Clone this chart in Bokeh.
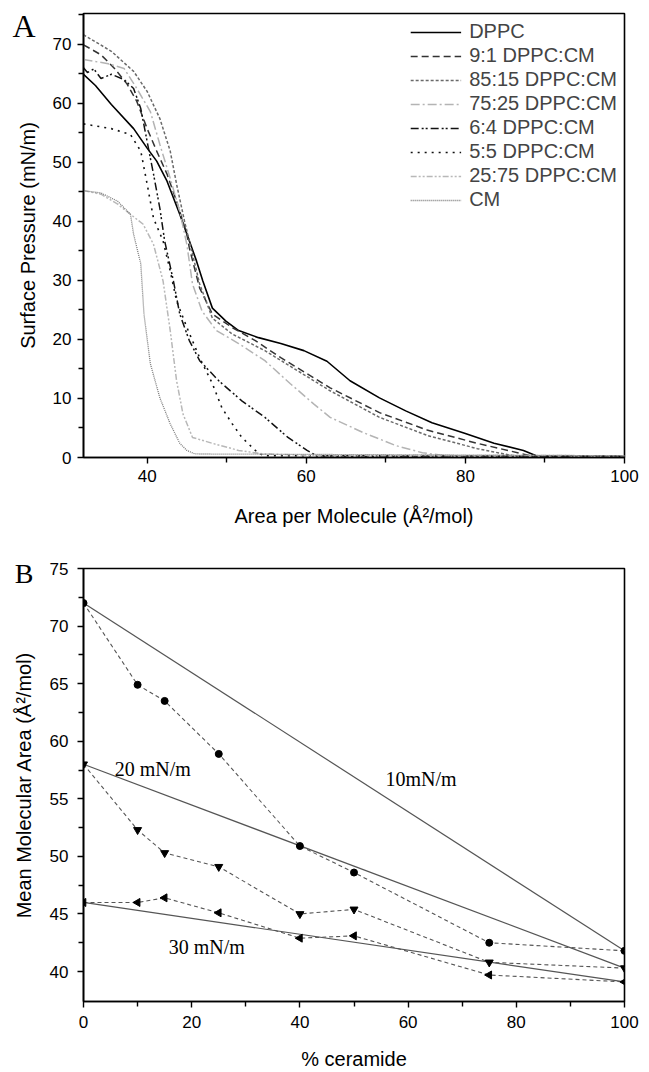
import numpy as np
from bokeh.plotting import figure
from bokeh.models import Range1d, FixedTicker, Label, Legend, LegendItem, LinearAxis
from bokeh.layouts import column
from bokeh.embed import file_html
from bokeh.resources import INLINE

# ---------------- Panel A data: isotherms ----------------
dppc_x = [32, 33.5, 35.5, 38.3, 40, 41.2, 42.5, 44.1, 45.3, 46.2, 47, 48.2, 49.9, 51.5, 54, 56.8, 59.7, 62.6, 65.5, 69.2, 72.5, 75.8, 79.9, 83.6, 87.3, 88.9, 90, 95, 100]
dppc_y = [64.9, 63.0, 59.8, 55.7, 52.4, 50.2, 46.8, 41.2, 36.7, 33.3, 29.9, 25.3, 23.1, 21.5, 20.3, 19.3, 18.1, 16.3, 13.0, 10.1, 7.9, 5.9, 4.1, 2.4, 1.2, 0.3, 0.2, 0.2, 0.2]

m91_x = [32, 34.2, 35.9, 37.5, 38.7, 40, 41.2, 42.5, 43.7, 45, 45.3, 46.6, 48.2, 50.7, 53.6, 56.8, 60.1, 63, 69.2, 75.3, 81.5, 86.9, 88.5, 100]
m91_y = [69.9, 68.2, 65.9, 63.2, 60.3, 55.7, 51.9, 48.0, 43.4, 37.8, 35.5, 28.7, 24.3, 22.0, 19.8, 16.9, 14.2, 11.8, 7.6, 4.6, 2.4, 0.7, 0.2, 0.2]

m8515_x = [32, 35.5, 38.3, 40, 41.6, 42.9, 43.7, 44.7, 45.3, 46.6, 48.2, 50.7, 54.8, 58.9, 63, 69.2, 75.3, 81.5, 86, 88, 100]
m8515_y = [71.6, 68.8, 65.4, 62.0, 57.4, 51.9, 46.3, 40.0, 36.7, 29.4, 23.6, 20.9, 18.1, 14.7, 11.3, 6.8, 3.7, 1.5, 0.3, 0.2, 0.2]

m7525_x = [32, 35.1, 37.1, 38.7, 40.4, 41.6, 42.9, 44.1, 45, 45.7, 46.9, 48.7, 51.5, 54.8, 58, 61, 63, 67.2, 71.3, 74.6, 77.5, 100]
m7525_y = [67.4, 66.7, 65.9, 62.5, 58.6, 53.0, 47.3, 41.7, 36.0, 29.4, 24.8, 21.5, 19.3, 16.4, 12.5, 9.0, 6.8, 4.2, 2.0, 0.8, 0.3, 0.2]

m64_x = [32, 32.5, 33.3, 34.2, 35.5, 37.1, 38.3, 39.2, 40, 40.8, 41.6, 42.2, 43.3, 44.1, 45.3, 46.6, 49, 51.9, 54.8, 57.7, 60.1, 61.3, 100]
m64_y = [66.0, 65.2, 65.8, 64.2, 64.9, 64.0, 62.5, 59.1, 53.5, 48.0, 42.2, 36.7, 29.9, 24.3, 19.8, 16.4, 13.0, 9.6, 6.8, 3.4, 1.2, 0.3, 0.2]

m55_x = [32, 35.5, 37.9, 39.2, 40, 40.8, 42, 42.9, 43.7, 45, 46.6, 48.2, 49.4, 50.7, 51.9, 53.6, 54.6, 100]
m55_y = [56.5, 55.7, 54.7, 51.9, 46.3, 40.5, 36.7, 31.6, 26.5, 22.0, 16.9, 12.5, 8.4, 5.7, 3.4, 1.2, 0.3, 0.2]

m2575_x = [32, 34.2, 36.3, 37.9, 39.5, 40.8, 42, 42.9, 43.7, 44.5, 45.7, 48.2, 51.5, 54.6, 60, 100]
m2575_y = [45.2, 44.6, 42.9, 41.2, 39.5, 36.1, 29.9, 21.5, 13.0, 7.4, 3.4, 2.4, 1.2, 0.6, 0.4, 0.3]

cm_x = [32, 34.2, 36.3, 37.9, 38.3, 38.8, 39.2, 39.6, 40.4, 41.6, 42.9, 44.1, 45, 46, 100]
cm_y = [45.2, 44.8, 43.4, 41.2, 37.8, 35.0, 32.8, 24.3, 15.9, 10.1, 5.7, 2.4, 1.2, 0.6, 0.3]

series_names = ["DPPC", "9:1 DPPC:CM", "85:15 DPPC:CM", "75:25 DPPC:CM",
                "6:4 DPPC:CM", "5:5 DPPC:CM", "25:75 DPPC:CM", "CM"]

# ---------------- Panel B data ----------------
ceramide_pct = [0, 10, 15, 25, 40, 50, 75, 100]
area_10 = [72.0, 64.9, 63.5, 58.9, 50.9, 48.6, 42.5, 41.8]
area_20 = [58.0, 52.3, 50.3, 49.1, 45.0, 45.4, 40.8, 40.3]
area_30 = [46.0, 46.0, 46.4, 45.1, 42.9, 43.1, 39.7, 39.1]

SANS = "Liberation Sans"
SERIF = "Liberation Serif"


def style_axes(p, tick_size="17px", title_size="20px"):
    for ax in (p.xaxis[0], p.yaxis[0]):
        ax.axis_line_color = "black"
        ax.axis_line_width = 1.6
        ax.major_tick_line_color = "black"
        ax.minor_tick_line_color = "black"
        ax.major_tick_line_width = 1.4
        ax.minor_tick_line_width = 1.4
        ax.major_tick_in = 0
        ax.major_tick_out = 6
        ax.minor_tick_in = 0
        ax.minor_tick_out = 5
        ax.major_label_text_font = SANS
        ax.major_label_text_font_size = tick_size
        ax.major_label_text_color = "black"
        ax.major_label_standoff = 6
        ax.axis_label_text_font = SANS
        ax.axis_label_text_font_style = "normal"
        ax.axis_label_text_font_size = title_size
        ax.axis_label_text_color = "black"
    p.outline_line_color = "black"
    p.outline_line_width = 1.6
    p.xgrid.visible = False
    p.ygrid.visible = False
    p.background_fill_color = "white"
    p.border_fill_color = "white"


def letter_and_title_axis(p, ypos, letter, size, label_standoff, title, title_standoff):
    # outer left axis: carries the panel letter (as its single tick label) and the y title
    ax = LinearAxis(ticker=FixedTicker(ticks=[ypos], minor_ticks=[]),
                    major_label_overrides={ypos: letter},
                    axis_line_color=None, major_tick_line_color=None,
                    minor_tick_line_color=None, major_tick_in=0, major_tick_out=0,
                    minor_tick_in=0, minor_tick_out=0,
                    major_label_standoff=label_standoff,
                    major_label_text_font=SERIF, major_label_text_font_size=size,
                    major_label_text_color="black",
                    axis_label=title, axis_label_standoff=title_standoff,
                    axis_label_text_font=SANS, axis_label_text_font_style="normal",
                    axis_label_text_font_size="20px", axis_label_text_color="black")
    p.add_layout(ax, "left")


# ---------------- Figure A ----------------
pa = figure(width=649, height=530, output_backend="svg", toolbar_location=None,
            x_range=Range1d(32, 100), y_range=Range1d(0, 75.2),
            min_border_left=82, min_border_right=16, min_border_top=13, min_border_bottom=73)
style_axes(pa)
pa.xaxis.ticker = FixedTicker(ticks=[40, 60, 80, 100], minor_ticks=[50, 70, 90])
pa.yaxis.ticker = FixedTicker(ticks=[0, 10, 20, 30, 40, 50, 60, 70],
                              minor_ticks=[5, 15, 25, 35, 45, 55, 65, 75])
pa.xaxis.axis_label = "Area per Molecule (Å²/mol)"
pa.xaxis.axis_label_standoff = 20

styles = [
    (dppc_x, dppc_y, "black", "solid", 1.6),
    (m91_x, m91_y, "#333333", "7 4", 1.5),
    (m8515_x, m8515_y, "#6a6a6a", "3 2", 1.5),
    (m7525_x, m7525_y, "#b4b4b4", "9 3 2 3", 1.5),
    (m64_x, m64_y, "#111111", "8 3 2 2 2 3", 1.5),
    (m55_x, m55_y, "#111111", "2 5", 1.6),
    (m2575_x, m2575_y, "#b8b8b8", "6 2 2 2 2 2", 1.5),
    (cm_x, cm_y, "#7a7a7a", "1 1", 1.3),
]
items = []
for name, (xs, ys, col, dash, lw) in zip(series_names, styles):
    r = pa.line(xs, ys, line_color=col, line_dash=dash, line_width=lw)
    items.append(LegendItem(label=name, renderers=[r]))

legend = Legend(items=items, location="top_right", margin=7, padding=0,
                border_line_color=None, background_fill_alpha=0,
                label_text_font=SANS, label_text_font_size="20px",
                glyph_width=51, glyph_height=20, label_standoff=8, spacing=1,
                label_height=20)
pa.add_layout(legend)

letter_and_title_axis(pa, 73, "A", "32px", 14, "Surface Pressure (mN/m)", -30)

# ---------------- Figure B ----------------
pb = figure(width=649, height=542, output_backend="svg", toolbar_location=None,
            x_range=Range1d(0, 100), y_range=Range1d(37.4, 75),
            min_border_left=83, min_border_right=25, min_border_top=38, min_border_bottom=64)
style_axes(pb)
pb.xaxis.ticker = FixedTicker(ticks=[0, 20, 40, 60, 80, 100], minor_ticks=[10, 30, 50, 70, 90])
pb.yaxis.ticker = FixedTicker(ticks=[40, 45, 50, 55, 60, 65, 70, 75],
                              minor_ticks=[42.5, 47.5, 52.5, 57.5, 62.5, 67.5, 72.5])
pb.xaxis.axis_label = "% ceramide"
pb.xaxis.major_label_standoff = 8
pb.yaxis.major_label_standoff = 9
pb.xaxis.axis_label_standoff = 17

line_col = "#555555"
for vals in (area_10, area_20, area_30):
    pb.line([ceramide_pct[0], ceramide_pct[-1]], [vals[0], vals[-1]],
            line_color=line_col, line_width=1.2)
    pb.line(ceramide_pct, vals, line_color=line_col, line_width=1.1, line_dash="4 3")

pb.scatter(ceramide_pct, area_10, marker="circle", size=7, fill_color="black", line_color="black")
pb.scatter(ceramide_pct, area_20, marker="inverted_triangle", size=8, fill_color="black", line_color="black")
pb.scatter(ceramide_pct, area_30, marker="triangle", angle=np.pi / 2, size=8,
           fill_color="black", line_color="black")

for tx, ty, t in [(12.8, 57.6, "20 mN/m"), (62.4, 56.7, "10mN/m"), (22.8, 42.1, "30 mN/m")]:
    pb.add_layout(Label(x=tx, y=ty, text=t, text_font=SERIF, text_font_size="20px",
                        text_color="black", text_align="center", text_baseline="middle"))

letter_and_title_axis(pb, 74.6, "B", "28px", 13, "Mean Molecular Area (Å²/mol)", -23)

layout = column(pa, pb)
open("out.html", "w").write(file_html(layout, INLINE))
